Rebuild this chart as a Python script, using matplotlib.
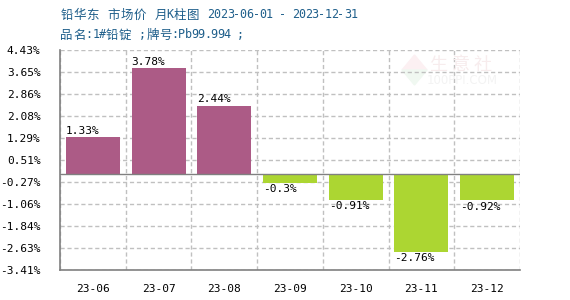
import matplotlib
matplotlib.use("Agg")
import matplotlib.pyplot as plt
from matplotlib.patches import Polygon
import numpy as np

months = ["23-06", "23-07", "23-08", "23-09", "23-10", "23-11", "23-12"]
changes = [1.33, 3.78, 2.44, -0.3, -0.91, -2.76, -0.92]
y_ticks = [4.43, 3.65, 2.86, 2.08, 1.29, 0.51, -0.27, -1.06, -1.84, -2.63, -3.41]
title_line1 = "铅华东 市场价 月K柱图 2023-06-01 - 2023-12-31"
title_line2 = "品名:1#铅锭 ;牌号:Pb99.994 ;"

UP_COLOR = "#ac5b86"
DOWN_COLOR = "#acd632"
TITLE_COLOR = "#1f5f8b"
GRID_COLOR = "#c0c0c0"
AXIS_COLOR = "#808080"
CJK = "Noto Sans CJK SC"
MONO = "DejaVu Sans Mono"
W, H = 570, 300

fig = plt.figure(figsize=(W / 100, H / 100), dpi=100)
ax = fig.add_axes([60 / W, 30 / H, 460 / W, 220 / H])

x = np.arange(len(months))
colors = [UP_COLOR if v >= 0 else DOWN_COLOR for v in changes]
bars = ax.bar(x, changes, width=0.82, color=colors, zorder=3)

ax.set_xlim(-0.5, len(months) - 0.5)
ax.set_ylim(min(y_ticks), max(y_ticks))
ax.set_yticks(y_ticks)
ax.set_yticklabels([f"{t:.2f}%" for t in y_ticks], fontfamily=MONO, fontsize=8)
ax.set_xticks(x)
ax.set_xticklabels(months, fontfamily=MONO, fontsize=8)
ax.tick_params(axis="both", length=0)
ax.tick_params(axis="y", pad=14)
ax.tick_params(axis="x", pad=10)

# dashed grid: horizontal at ticks, vertical at category boundaries
for t in y_ticks:
    ax.axhline(t, color=GRID_COLOR, linestyle=(0, (3, 2)), linewidth=1, zorder=1)
for b in np.arange(len(months) + 1) - 0.5:
    ax.axvline(b, color=GRID_COLOR, linestyle=(0, (3, 2)), linewidth=1, zorder=1)
ax.axhline(0, color=AXIS_COLOR, linewidth=1, zorder=4)

for side in ["top", "right"]:
    ax.spines[side].set_visible(False)
for side in ["left", "bottom"]:
    ax.spines[side].set_color(AXIS_COLOR)
    ax.spines[side].set_linewidth(1.2)

for bar, val in zip(bars, changes):
    x0 = bar.get_x()
    if val >= 0:
        ax.annotate(f"{val}%", (x0, val), xytext=(0, 1), textcoords="offset points",
                    ha="left", va="bottom", fontfamily=MONO, fontsize=8, zorder=5)
    else:
        ax.annotate(f"{val}%", (x0, val), xytext=(0, -1), textcoords="offset points",
                    ha="left", va="top", fontfamily=MONO, fontsize=8, zorder=5)

# faint watermark (logo + text)
ax.add_patch(Polygon([(402 / W, 1 - 70 / H), (414.5 / W, 1 - 55 / H), (427 / W, 1 - 70 / H)],
                     closed=True, transform=fig.transFigure, color="#fcf0f2", zorder=0.5))
ax.add_patch(Polygon([(402 / W, 1 - 70 / H), (414.5 / W, 1 - 85 / H), (427 / W, 1 - 70 / H)],
                     closed=True, transform=fig.transFigure, color="#f0f8f1", zorder=0.5))
fig.text(461 / W, 1 - 65 / H, "生 意 社", ha="center", va="center",
         fontsize=13, color="#f7eced", family=CJK, zorder=0.5)
fig.text(462 / W, 1 - 81 / H, "100PPI.COM", ha="center", va="center",
         fontsize=8.5, color="#f3f3f3", family="DejaVu Sans", zorder=0.5)


def draw_mixed(text, x_px, y_px):
    # lay out character by character: full-width CJK cells, half-width ASCII
    prev = ""
    for i, ch in enumerate(text):
        nxt = text[i + 1] if i + 1 < len(text) else ""
        if ord(ch) > 127:
            w = 13
            fig.text((x_px + w / 2) / W, 1 - y_px / H, ch, color=TITLE_COLOR,
                     fontsize=9, family=CJK, ha="center", va="center")
        elif ch == " ":
            near_cjk = (prev and ord(prev) > 127) or (nxt and ord(nxt) > 127)
            w = 8 if near_cjk else 6.5
        else:
            w = 6.5
            fig.text((x_px + w / 2) / W, 1 - y_px / H, ch, color=TITLE_COLOR,
                     fontsize=8.5, family=MONO, ha="center", va="center")
        x_px += w
        prev = ch


draw_mixed(title_line1, 60, 15)
draw_mixed(title_line2, 60, 35)

fig.savefig("out.png", dpi=100)
